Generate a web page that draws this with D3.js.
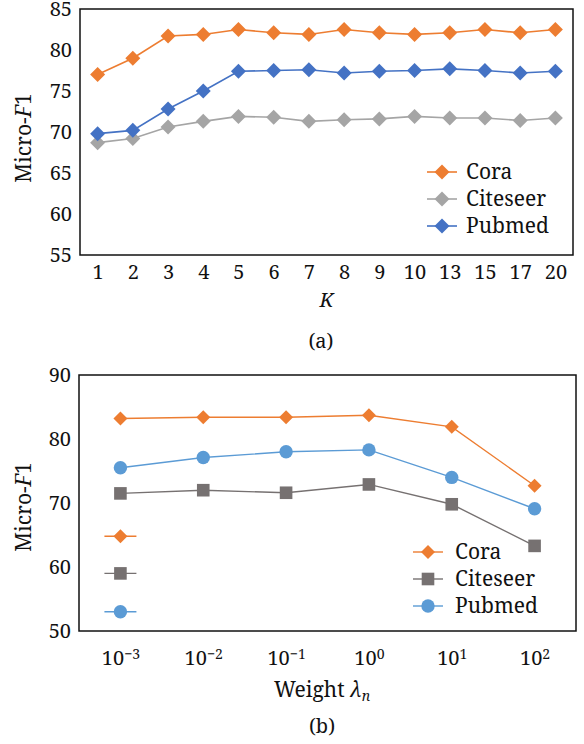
<!DOCTYPE html>
<html>
<head>
<meta charset="utf-8">
<script src="https://cdn.jsdelivr.net/npm/d3@7"></script>
<style>
  html, body { margin: 0; padding: 0; background: #fff; }
  svg text { font-family: "Noto Serif", "Liberation Serif", serif; fill: #111; }
</style>
</head>
<body>
<svg id="chart" width="584" height="744"></svg>
<script>
// ---------- Data: chart (a) ----------
const kLabels = ["1","2","3","4","5","6","7","8","9","10","13","15","17","20"];
const coraK     = [77.0, 79.0, 81.7, 81.9, 82.5, 82.1, 81.9, 82.5, 82.1, 81.9, 82.1, 82.5, 82.1, 82.5];
const citeseerK = [68.7, 69.2, 70.6, 71.3, 71.9, 71.8, 71.3, 71.5, 71.6, 71.9, 71.7, 71.7, 71.4, 71.7];
const pubmedK   = [69.8, 70.2, 72.8, 75.0, 77.4, 77.5, 77.6, 77.2, 77.4, 77.5, 77.7, 77.5, 77.2, 77.4];
const yTicksA = [55, 60, 65, 70, 75, 80, 85];

// ---------- Data: chart (b) ----------
const weightExp = ["-3", "-2", "-1", "0", "1", "2"];
const coraW     = [83.2, 83.4, 83.4, 83.7, 81.9, 72.7];
const citeseerW = [71.5, 72.0, 71.6, 72.9, 69.8, 63.3];
const pubmedW   = [75.5, 77.1, 78.0, 78.3, 74.0, 69.1];
const yTicksB = [50, 60, 70, 80, 90];
// stray legend glyphs drawn inside the plot at the first category
const strayY = [64.8, 59.0, 53.0];

const seriesNames = ["Cora", "Citeseer", "Pubmed"];

const svg = d3.select("#chart");
const FONT = "Noto Serif";
const FS = 20;

function diamondPath(r) { return `M0,${-r}L${r},0L0,${r}L${-r},0Z`; }
function drawMarker(g, shape, color, size) {
  if (shape === "diamond") {
    g.append("path").attr("d", diamondPath(size)).attr("fill", color);
  } else if (shape === "square") {
    g.append("rect").attr("x", -size).attr("y", -size).attr("width", 2*size).attr("height", 2*size).attr("fill", color);
  } else {
    g.append("circle").attr("r", size).attr("fill", color);
  }
}
function styleTicks(sel) {
  sel.selectAll("text").style("font-size", FS + "px").style("font-family", FONT).attr("fill", "#111");
}

// ================= Chart (a) =================
(function() {
  const L = 80, R = 573, T = 9, B = 255;
  const x = d3.scalePoint().domain(kLabels).range([L, R]).padding(0.5);
  const y = d3.scaleLinear().domain([55, 85]).range([B, T]);
  const g = svg.append("g");

  const series = [
    {name: "Cora", vals: coraK, color: "#ED7D31"},
    {name: "Citeseer", vals: citeseerK, color: "#A5A5A5"},
    {name: "Pubmed", vals: pubmedK, color: "#4472C4"}
  ];
  const line = d3.line().x((d, i) => x(kLabels[i])).y(d => y(d));
  series.forEach(s => {
    g.append("path").attr("d", line(s.vals)).attr("fill", "none")
      .attr("stroke", s.color).attr("stroke-width", 1.6);
    s.vals.forEach((v, i) => {
      const m = g.append("g").attr("transform", `translate(${x(kLabels[i])},${y(v)})`);
      drawMarker(m, "diamond", s.color, 7.5);
    });
  });

  g.append("rect").attr("x", L).attr("y", T).attr("width", R - L).attr("height", B - T)
    .attr("fill", "none").attr("stroke", "#111").attr("stroke-width", 1.5);

  const yAxis = d3.axisLeft(y).tickValues(yTicksA).tickSize(0).tickPadding(8);
  const ya = g.append("g").attr("transform", `translate(${L},0)`).call(yAxis);
  ya.select(".domain").remove();
  styleTicks(ya);

  const xAxis = d3.axisBottom(x).tickSize(0).tickPadding(10);
  const xa = g.append("g").attr("transform", `translate(0,${B})`).call(xAxis);
  xa.select(".domain").remove();
  styleTicks(xa);

  const yl = g.append("text").attr("transform", `translate(31,${(T + B) / 2 + 6}) rotate(-90)`)
    .attr("text-anchor", "middle").style("font-size", "21px");
  yl.append("tspan").text("Micro-");
  yl.append("tspan").attr("font-style", "italic").text("F");
  yl.append("tspan").text("1");

  g.append("text").attr("x", (L + R) / 2).attr("y", 307).attr("text-anchor", "middle")
    .attr("font-style", "italic").style("font-size", FS + "px").text("K");
  g.append("text").attr("x", 321).attr("y", 348).attr("text-anchor", "middle")
    .style("font-size", FS + "px").text("(a)");

  series.forEach((s, i) => {
    const ly = 172 + i * 27;
    const lg = g.append("g").attr("transform", `translate(442,${ly})`);
    lg.append("line").attr("x1", -15).attr("x2", 15).attr("stroke", s.color).attr("stroke-width", 1.6);
    drawMarker(lg, "diamond", s.color, 7.5);
    g.append("text").attr("x", 466).attr("y", ly + 7).style("font-size", "21px").text(s.name);
  });
})();

// ================= Chart (b) =================
(function() {
  const L = 79, R = 576, T = 375, B = 631;
  const x = d3.scalePoint().domain(weightExp).range([L, R]).padding(0.5);
  const y = d3.scaleLinear().domain([50, 90]).range([B, T]);
  const g = svg.append("g");

  const series = [
    {name: "Cora", vals: coraW, color: "#ED7D31", shape: "diamond", size: 7},
    {name: "Citeseer", vals: citeseerW, color: "#767171", shape: "square", size: 6.3},
    {name: "Pubmed", vals: pubmedW, color: "#5B9BD5", shape: "circle", size: 6.7}
  ];
  const line = d3.line().x((d, i) => x(weightExp[i])).y(d => y(d));
  series.forEach(s => {
    g.append("path").attr("d", line(s.vals)).attr("fill", "none")
      .attr("stroke", s.color).attr("stroke-width", 1.4);
    s.vals.forEach((v, i) => {
      const m = g.append("g").attr("transform", `translate(${x(weightExp[i])},${y(v)})`);
      drawMarker(m, s.shape, s.color, s.size);
    });
  });

  series.forEach((s, i) => {
    const sg = g.append("g").attr("transform", `translate(${x(weightExp[0])},${y(strayY[i])})`);
    sg.append("line").attr("x1", -16).attr("x2", 16).attr("stroke", s.color).attr("stroke-width", 1.4);
    drawMarker(sg, s.shape, s.color, s.size);
  });

  g.append("rect").attr("x", L).attr("y", T).attr("width", R - L).attr("height", B - T)
    .attr("fill", "none").attr("stroke", "#111").attr("stroke-width", 1.5);

  const yAxis = d3.axisLeft(y).tickValues(yTicksB).tickSize(0).tickPadding(8);
  const ya = g.append("g").attr("transform", `translate(${L},0)`).call(yAxis);
  ya.select(".domain").remove();
  styleTicks(ya);

  const xAxis = d3.axisBottom(x).tickSize(0).tickPadding(20).tickFormat("");
  const xa = g.append("g").attr("transform", `translate(0,${B})`).call(xAxis);
  xa.select(".domain").remove();
  xa.selectAll(".tick text").each(function(d) {
    const t = d3.select(this);
    t.text(null).style("font-size", FS + "px").style("font-family", FONT).attr("fill", "#111");
    t.append("tspan").text("10");
    t.append("tspan").attr("dy", "-0.45em").style("font-size", "14px").text(d.replace("-", "\u2212"));
  });

  const yl = g.append("text").attr("transform", `translate(31,${(T + B) / 2 + 4}) rotate(-90)`)
    .attr("text-anchor", "middle").style("font-size", "21px");
  yl.append("tspan").text("Micro-");
  yl.append("tspan").attr("font-style", "italic").text("F");
  yl.append("tspan").text("1");

  const xl = g.append("text").attr("x", 322).attr("y", 697).attr("text-anchor", "middle")
    .style("font-size", "21px");
  xl.append("tspan").text("Weight ");
  xl.append("tspan").attr("font-style", "italic").text("\u03BB");
  xl.append("tspan").attr("font-style", "italic").attr("dy", "0.3em").style("font-size", "14px").text("n");

  g.append("text").attr("x", 322).attr("y", 733).attr("text-anchor", "middle")
    .style("font-size", FS + "px").text("(b)");

  series.forEach((s, i) => {
    const ly = 552 + i * 27;
    const lg = g.append("g").attr("transform", `translate(428,${ly})`);
    lg.append("line").attr("x1", -15).attr("x2", 15).attr("stroke", s.color).attr("stroke-width", 1.4);
    drawMarker(lg, s.shape, s.color, s.size);
    g.append("text").attr("x", 455).attr("y", ly + 7).style("font-size", "21px").text(s.name);
  });
})();
</script>
</body>
</html>
